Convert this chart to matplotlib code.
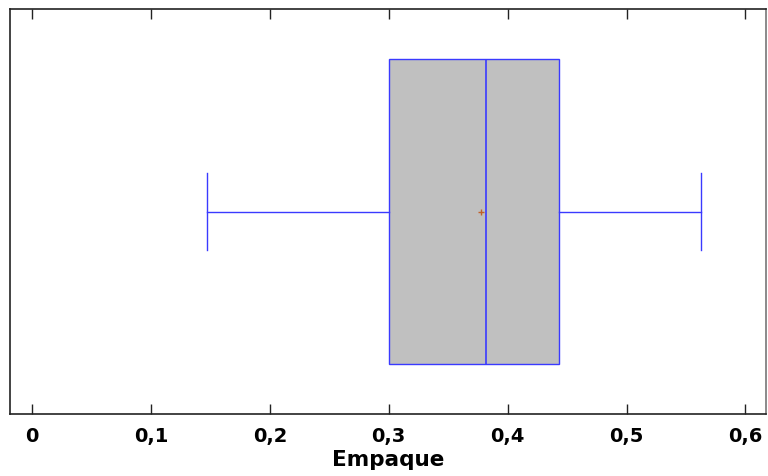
import matplotlib.pyplot as plt
from matplotlib.ticker import FixedLocator

# Box plot summary for "Empaque"
whisker_low = 0.147
q1 = 0.300
median = 0.382
mean = 0.378
q3 = 0.443
whisker_high = 0.563

tick_values = [0, 0.1, 0.2, 0.3, 0.4, 0.5, 0.6]
tick_labels = ["0", "0,1", "0,2", "0,3", "0,4", "0,5", "0,6"]
x_label = "Empaque"

plt.rcParams['font.family'] = 'DejaVu Sans'

fig = plt.figure(figsize=(7.68, 4.76), dpi=100)
ax = fig.add_axes([0.013, 0.130, 0.984, 0.851])

stats = [dict(whislo=whisker_low, q1=q1, med=median, q3=q3,
              whishi=whisker_high, mean=mean, fliers=[])]
blue = '#3a3aff'
ax.bxp(stats, positions=[0.5], widths=[0.753], capwidths=[0.19],
       orientation='horizontal', showmeans=True, patch_artist=True,
       boxprops=dict(facecolor='#c0c0c0', edgecolor=blue, linewidth=1),
       medianprops=dict(color=blue, linewidth=1.2),
       whiskerprops=dict(color=blue, linewidth=1),
       capprops=dict(color=blue, linewidth=1),
       meanprops=dict(marker='+', markeredgecolor='#c0602a',
                      markersize=4, markeredgewidth=1))

ax.set_xlim(-0.0185, 0.617)
ax.set_ylim(0, 1)
ax.set_yticks([])
ax.xaxis.set_major_locator(FixedLocator(tick_values))
ax.set_xticklabels(tick_labels, fontsize=14, fontweight='bold')
ax.tick_params(axis='x', direction='in', length=7, width=1,
               top=True, pad=9, colors='#222222', labelcolor='black')
for sp in ax.spines.values():
    sp.set_linewidth(1.2)
    sp.set_color('#222222')
ax.spines['right'].set_color('#777777')

ax.set_xlabel(x_label, fontsize=15.5, fontweight='bold', labelpad=3)

fig.savefig('out.png', dpi=100)
plt.close(fig)
